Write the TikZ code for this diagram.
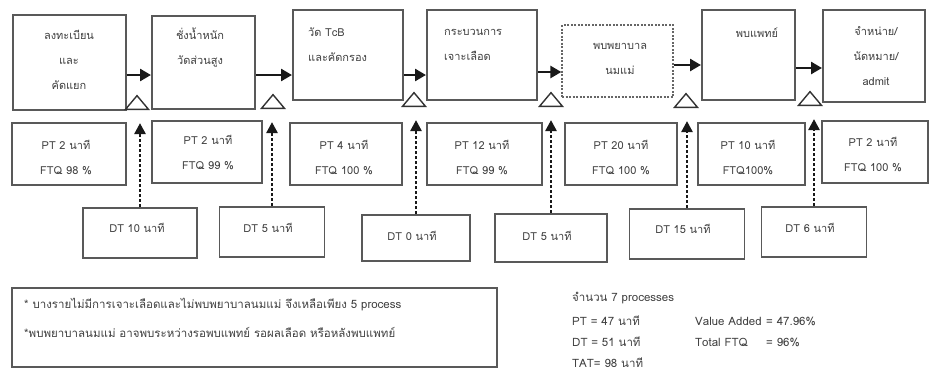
\documentclass[tikz,border=0pt]{standalone}
\usepackage{fontspec}
\setmainfont[Script=Thai]{Loma}
\usetikzlibrary{arrows.meta,shapes.geometric}
\tikzset{
  pbox/.style={draw=black!65, line width=2pt, fill=white, inner sep=0pt},
  dbox/.style={draw=black!60, line width=1.3pt, dash pattern=on 2pt off 1.5pt, fill=white, inner sep=0pt},
  tbox/.style={draw=black!65, line width=1.8pt, fill=white, inner sep=0pt},
  txt/.style={text=black!75, font=\fontsize{11}{25}\selectfont, align=center, inner sep=0pt},
  ltxt/.style={text=black!75, font=\fontsize{11}{25}\selectfont, align=left, inner sep=0pt},
  ntxt/.style={text=black!75, font=\fontsize{11.5}{13}\selectfont, align=left, inner sep=0pt},
  stxt/.style={text=black!75, font=\fontsize{11.5}{13}\selectfont, align=left, inner sep=0pt},
  flow/.style={-{Triangle[length=11pt,width=12pt]}, line width=2.6pt, black!90},
  dtarrow/.style={-{Triangle[length=11pt,width=11pt]}, line width=2.6pt, black!90, dash pattern=on 3pt off 2pt},
  tri/.style={draw=black!80, line width=1.4pt, isosceles triangle, isosceles triangle apex angle=80, shape border rotate=90, minimum height=13pt, minimum width=23pt, inner sep=0pt, fill=white}
}
\begin{document}
\begin{tikzpicture}[x=1pt,y=-1pt]
\useasboundingbox (0,0) rectangle (929,383);
% process boxes
\node[pbox, minimum width=113pt, minimum height=95pt] (b1) at (69,62) {};
\node[pbox, minimum width=103pt, minimum height=93pt] (b2) at (203.5,62) {};
\node[pbox, minimum width=110pt, minimum height=90pt] (b3) at (348,55) {};
\node[pbox, minimum width=110pt, minimum height=90pt] (b4) at (482,55) {};
\node[dbox, minimum width=111pt, minimum height=72pt] (b5) at (617.5,61) {};
\node[pbox, minimum width=93pt, minimum height=90pt] (b6) at (748.5,55) {};
\node[pbox, minimum width=102pt, minimum height=92pt] (b7) at (874,56) {};
% box texts
\node[txt] (t1) at (69,60) {ลงทะเบียน\\และ\\คัดแยก};
\node[txt] (t2) at (200,48) {ชั่งน้ำหนัก\\วัดส่วนสูง};
\node[ltxt, anchor=west] (t3) at (308,45) {วัด TcB\\และคัดกรอง};
\node[ltxt, anchor=west] (t4) at (444,45) {กระบวนการ\\เจาะเลือด};
\node[txt] (t5) at (620,59) {พบพยาบาล\\นมแม่};
\node[txt] (t6) at (757,33) {พบแพทย์};
\node[txt] (t7) at (876,56) {จำหน่าย/\\นัดหมาย/\\admit};
% flow arrows
\draw[flow] ([yshift=-13pt]b1.east) -- ([yshift=-13pt]b2.west);
\draw[flow] ([yshift=-13pt]b2.east) -- ([yshift=-13pt]b2.east -| b3.west);
\draw[flow] ([yshift=-20pt]b3.east) -- ([yshift=-20pt]b4.west);
\draw[flow] ([yshift=-17pt]b4.east) -- ([yshift=-17pt]b4.east -| b5.west);
\draw[flow] ([yshift=-4pt]b5.east) -- ([yshift=-4pt]b5.east -| b6.west);
\draw[flow] ([yshift=-13pt]b6.east) -- ([yshift=-13pt]b6.east -| b7.west);
% triangles
\node[tri] (tr1) at (137,104) {};
\node[tri] (tr2) at (273,103) {};
\node[tri] (tr3) at (414,101) {};
\node[tri] (tr4) at (551,101) {};
\node[tri] (tr5) at (686,102) {};
\node[tri] (tr6) at (810,100) {};
% PT boxes
\node[tbox, minimum width=114pt, minimum height=62pt] (p1) at (69,154) {};
\node[tbox, minimum width=110pt, minimum height=62pt] (p2) at (207,152) {};
\node[tbox, minimum width=112pt, minimum height=62pt] (p3) at (346,154) {};
\node[tbox, minimum width=115pt, minimum height=62pt] (p4) at (484.5,154) {};
\node[tbox, minimum width=112pt, minimum height=62pt] (p5) at (621,154) {};
\node[tbox, minimum width=107pt, minimum height=62pt] (p6) at (751.5,154) {};
\node[tbox, minimum width=106pt, minimum height=62pt] (p7) at (875,152) {};
\node[txt] (pt1) at (66,157) {PT 2 นาที\\FTQ 98 \%};
\node[txt] (pt2) at (208,152) {PT 2 นาที\\FTQ 99 \%};
\node[txt] (pt3) at (344,157) {PT 4 นาที\\FTQ 100 \%};
\node[txt] (pt4) at (482,157) {PT 12 นาที\\FTQ 99 \%};
\node[txt] (pt5) at (621,157) {PT 20 นาที\\FTQ 100 \%};
\node[txt] (pt6) at (748,157) {PT 10 นาที\\FTQ100\%};
\node[txt] (pt7) at (873,154) {PT 2 นาที\\FTQ 100 \%};
% DT boxes
\node[tbox, minimum width=114pt, minimum height=50pt] (d1) at (140,233) {};
\node[tbox, minimum width=105pt, minimum height=50pt] (d2) at (272,232) {};
\node[tbox, minimum width=108pt, minimum height=46pt] (d3) at (416,238) {};
\node[tbox, minimum width=112pt, minimum height=48pt] (d4) at (551,238) {};
\node[tbox, minimum width=115pt, minimum height=50pt] (d5) at (687,234) {};
\node[tbox, minimum width=105pt, minimum height=50pt] (d6) at (814,232) {};
\node[txt] (dt1) at (137,228) {DT 10 นาที};
\node[txt] (dt2) at (268,228) {DT 5 นาที};
\node[txt] (dt3) at (412,236) {DT  0 นาที};
\node[txt] (dt4) at (547,236) {DT 5 นาที};
\node[txt] (dt5) at (683,229) {DT 15 นาที};
\node[txt] (dt6) at (810,228) {DT 6 นาที};
% DT arrows
\draw[dtarrow] (d1.north) -- ([yshift=-13pt]d1.north |- tr1.south);
\draw[dtarrow] (d2.north) -- ([yshift=-13pt]d2.north |- tr2.south);
\draw[dtarrow] (d3.north) -- ([yshift=-13pt]d3.north |- tr3.south);
\draw[dtarrow] (d4.north) -- ([yshift=-13pt]d4.north |- tr4.south);
\draw[dtarrow] (d5.north) -- ([yshift=-13pt]d5.north |- tr5.south);
\draw[dtarrow] (d6.north) -- ([yshift=-13pt]d6.north |- tr6.south);
% footnote box
\node[tbox, minimum width=485pt, minimum height=79pt] (fn) at (254.5,327.5) {};
\node[ntxt, anchor=west] (fn1) at (24,305) {* บางรายไม่มีการเจาะเลือดและไม่พบพยาบาลนมแม่ จึงเหลือเพียง 5 process};
\node[ntxt, anchor=west] (fn2) at (24,332) {*พบพยาบาลนมแม่ อาจพบระหว่างรอพบแพทย์ รอผลเลือด หรือหลังพบแพทย์};
% summary
\node[stxt, anchor=west] (s0) at (572,298) {จำนวน 7 processes};
\node[stxt, anchor=west] (s1) at (572,321) {PT  = 47 นาที};
\node[stxt, anchor=west] (s2) at (572,342) {DT  = 51 นาที};
\node[stxt, anchor=west] (s3) at (572,363) {TAT= 98 นาที};
\node[stxt, anchor=west] (s4) at (695,321) {Value Added};
\node[stxt, anchor=west] (s5) at (766,321) {= 47.96\%};
\node[stxt, anchor=west] (s6) at (695,342) {Total FTQ};
\node[stxt, anchor=west] (s7) at (766,342) {= 96\%};
\end{tikzpicture}
\end{document}
